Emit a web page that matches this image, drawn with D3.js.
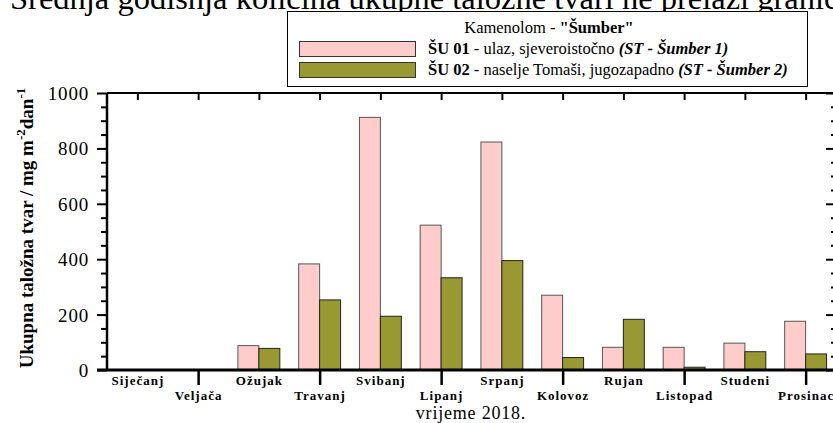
<!DOCTYPE html>
<html>
<head>
<meta charset="utf-8">
<script src="https://cdn.jsdelivr.net/npm/d3@7"></script>
<style>
  html, body { margin: 0; padding: 0; background: #fff; overflow: hidden; }
  svg { display: block; }
</style>
</head>
<body>
<svg id="chart" width="833" height="423"></svg>
<script>
// ---- data ----
const months = ["Siječanj","Veljača","Ožujak","Travanj","Svibanj","Lipanj","Srpanj","Kolovoz","Rujan","Listopad","Studeni","Prosinac"];
const su01 = [null, null, 88, 383, 912, 523, 823, 270, 82, 82, 97, 176];
const su02 = [null, null, 78, 253, 194, 333, 395, 45, 183, 10, 66, 58];
const yTicks = [0, 200, 400, 600, 800, 1000];
const seriesKeys = ["su01", "su02"];
const seriesColors = ["#FFCCCC", "#999933"];

const SERIF = '"Liberation Serif", "Times New Roman", Times, "DejaVu Serif", serif';
const svg = d3.select("#chart");
const pLeft = 107, pRight = 836, pTop = 93, pBottom = 370;

const x = d3.scaleBand().domain(months).range([pLeft, pRight]).padding(0);
const xs = d3.scaleBand().domain(seriesKeys).range([0, x.bandwidth()]).paddingInner(0).paddingOuter(0.45);
const y = d3.scaleLinear().domain([0, 1000]).range([pBottom, pTop]);

// page title (clipped at top, as in the source image)
svg.append("text")
  .attr("x", 10).attr("y", 9)
  .attr("font-family", SERIF)
  .attr("font-size", 32.5)
  .text("Srednja godišnja količina ukupne taložne tvari ne prelazi graničnu vrijednost");

// bars
const data = months.map((m, i) => ({ m, su01: su01[i], su02: su02[i] }));
const g = svg.append("g");
seriesKeys.forEach((k, si) => {
  g.selectAll(".bar-" + k)
    .data(data.filter(d => d[k] !== null))
    .enter().append("rect")
    .attr("x", d => x(d.m) + xs(k))
    .attr("y", d => y(d[k]))
    .attr("width", xs.bandwidth())
    .attr("height", d => y(0) - y(d[k]))
    .attr("fill", seriesColors[si])
    .attr("stroke", si === 0 ? "#555" : "#222")
    .attr("stroke-width", 1);
});

// left axis
const minor = d3.range(0, 1001, 50).filter(v => v % 200 !== 0);
const leftAxis = svg.append("g").attr("transform", `translate(${pLeft},0)`)
  .call(d3.axisLeft(y).tickValues(yTicks).tickSize(10).tickPadding(8).tickFormat(d3.format("d")));
leftAxis.attr("font-family", SERIF).attr("font-size", 19);
leftAxis.select(".domain").remove();
leftAxis.selectAll(".tick line").attr("stroke", "#000").attr("stroke-width", 2);
leftAxis.selectAll(".tick text").attr("fill", "#000").attr("dy", "0.34em").attr("letter-spacing", 0.8);
svg.append("g").attr("transform", `translate(${pLeft},0)`)
  .call(d3.axisLeft(y).tickValues(minor).tickSize(6).tickFormat(""))
  .call(s => s.select(".domain").remove())
  .selectAll(".tick line").attr("stroke", "#000").attr("stroke-width", 2);

// right axis (inward ticks)
svg.append("g").attr("transform", `translate(${pRight},0)`)
  .call(d3.axisLeft(y).tickValues(yTicks).tickSize(10).tickFormat(""))
  .call(s => s.select(".domain").remove())
  .selectAll(".tick line").attr("stroke", "#000").attr("stroke-width", 2);
svg.append("g").attr("transform", `translate(${pRight},0)`)
  .call(d3.axisLeft(y).tickValues(minor).tickSize(5).tickFormat(""))
  .call(s => s.select(".domain").remove())
  .selectAll(".tick line").attr("stroke", "#000").attr("stroke-width", 2);

// top axis ticks at month centers (inward)
const xc = d => x(d) + x.bandwidth() / 2;
const xb = d3.scalePoint().domain(months).range([xc(months[0]), xc(months[11])]);
svg.append("g").attr("transform", `translate(0,${pTop})`)
  .call(d3.axisBottom(xb).tickSize(7).tickFormat(""))
  .call(s => s.select(".domain").remove())
  .selectAll(".tick line").attr("stroke", "#000").attr("stroke-width", 2);

// bottom axis: ticks at every other month (long, down), staggered labels
const bAxis = svg.append("g").attr("transform", `translate(0,${pBottom})`)
  .call(d3.axisBottom(xb).tickSize(0).tickFormat(""));
bAxis.select(".domain").remove();
bAxis.selectAll(".tick").each(function(d, i) {
  const t = d3.select(this);
  if (i % 2 === 1) {
    t.append("line").attr("y1", 0).attr("y2", 15).attr("stroke", "#000").attr("stroke-width", 2.5);
  }
  t.append("text")
    .attr("y", i % 2 === 0 ? 15 : 30)
    .attr("text-anchor", "middle")
    .attr("font-family", SERIF)
    .attr("font-weight", "bold")
    .attr("font-size", 13)
    .attr("letter-spacing", 1)
    .attr("fill", "#000")
    .text(d);
});

// frame lines
svg.append("line").attr("x1", pLeft).attr("x2", pRight).attr("y1", pTop).attr("y2", pTop).attr("stroke", "#000").attr("stroke-width", 2);
svg.append("line").attr("x1", pLeft).attr("x2", pLeft).attr("y1", pTop).attr("y2", pBottom).attr("stroke", "#000").attr("stroke-width", 2.5);
svg.append("line").attr("x1", pLeft - 10).attr("x2", pRight).attr("y1", pBottom).attr("y2", pBottom).attr("stroke", "#000").attr("stroke-width", 3);
svg.append("line").attr("x1", pRight).attr("x2", pRight).attr("y1", pTop).attr("y2", pBottom).attr("stroke", "#000").attr("stroke-width", 2);

// x axis title
svg.append("text").attr("x", 471).attr("y", 419)
  .attr("text-anchor", "middle").attr("font-family", SERIF).attr("font-size", 18)
  .attr("letter-spacing", 0.8).text("vrijeme 2018.");

// y axis title
const yt = svg.append("text")
  .attr("transform", "translate(33,228) rotate(-90)")
  .attr("text-anchor", "middle")
  .attr("font-family", SERIF)
  .attr("font-weight", "bold")
  .attr("font-size", 19);
yt.append("tspan").text("Ukupna taložna tvar / mg m");
yt.append("tspan").attr("dy", -8).attr("font-size", 13).text("-2");
yt.append("tspan").attr("dy", 8).text("dan");
yt.append("tspan").attr("dy", -8).attr("font-size", 13).text("-1");

// legend
const lg = svg.append("g").attr("font-family", SERIF);
lg.append("rect").attr("x", 287.5).attr("y", 11.5).attr("width", 520).attr("height", 75)
  .attr("fill", "#fff").attr("stroke", "#000").attr("stroke-width", 1);
const lt = lg.append("text").attr("x", 549).attr("y", 33).attr("text-anchor", "middle").attr("font-size", 16.5);
lt.append("tspan").text("Kamenolom - ");
lt.append("tspan").attr("font-weight", "bold").text("\"Šumber\"");

const legendRows = [
  { code: "ŠU 01", desc: " - ulaz, sjeveroistočno ", st: "(ST - Šumber 1)" },
  { code: "ŠU 02", desc: " - naselje Tomaši, jugozapadno ", st: "(ST - Šumber 2)" }
];
legendRows.forEach((r, i) => {
  const yy = 41 + i * 21;
  lg.append("rect").attr("x", 299.5).attr("y", yy + 0.5).attr("width", 116).attr("height", 15)
    .attr("fill", seriesColors[i]).attr("stroke", "#333").attr("stroke-width", 1);
  const t = lg.append("text").attr("x", 428).attr("y", yy + 13).attr("font-size", 16.5);
  t.append("tspan").attr("font-weight", "bold").text(r.code);
  t.append("tspan").text(r.desc);
  t.append("tspan").attr("font-weight", "bold").attr("font-style", "italic").text(r.st);
});
</script>
</body>
</html>
